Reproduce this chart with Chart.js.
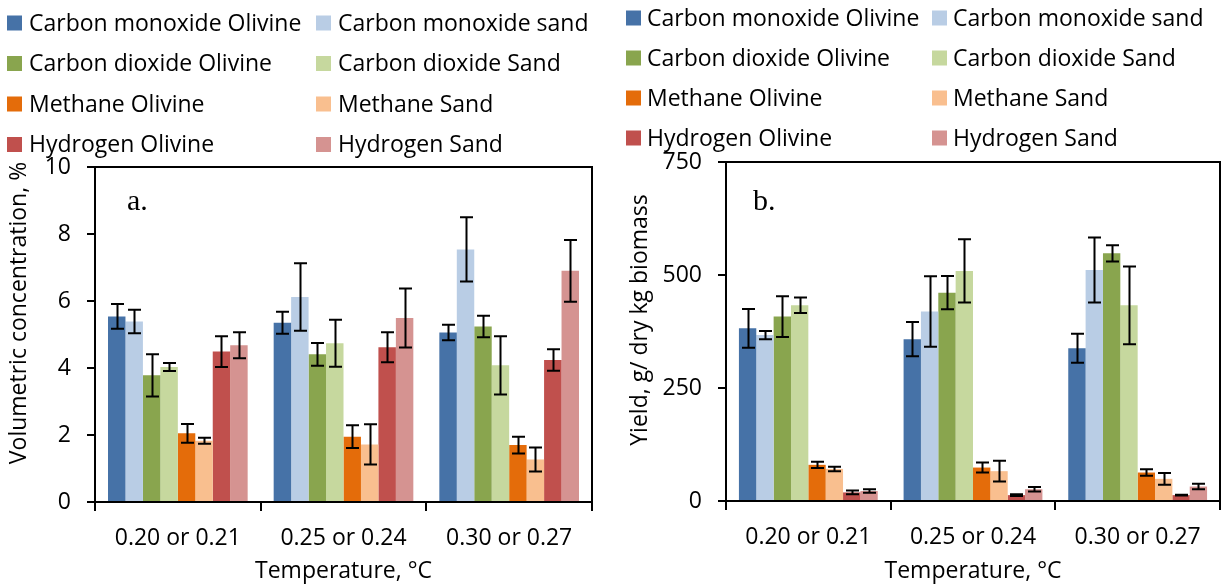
<!DOCTYPE html>
<html>
<head>
<meta charset="utf-8">
<script src="https://cdn.jsdelivr.net/npm/chart.js@4.4.0/dist/chart.umd.min.js"></script>
<style>
  html, body { margin: 0; padding: 0; background: #ffffff; }
  #wrap { position: relative; width: 1225px; height: 585px; overflow: hidden; }
  .panel { position: absolute; top: 0; height: 585px; }
  #panelA { left: 0; width: 612px; }
  #panelB { left: 612px; width: 613px; }
</style>
</head>
<body>
<div id="wrap">
  <div class="panel" id="panelA"><canvas id="chartA"></canvas></div>
  <div class="panel" id="panelB"><canvas id="chartB"></canvas></div>
</div>
<script>
// ---- categories and series ----
const temperatures = ['0.20 or 0.21', '0.25 or 0.24', '0.30 or 0.27'];
const seriesNames = [
  'Carbon monoxide Olivine', 'Carbon monoxide sand',
  'Carbon dioxide Olivine', 'Carbon dioxide Sand',
  'Methane Olivine', 'Methane Sand',
  'Hydrogen Olivine', 'Hydrogen Sand'
];
const seriesColors = [
  '#4672a7', '#b9cde5',
  '#89a54e', '#c6d89e',
  '#e46c0a', '#f9bf8f',
  '#c0504d', '#d59391'
];

// ---- (a) volumetric concentration, % ----
const concCOOlivine = [5.54, 5.35, 5.06];
const concCOSand = [5.39, 6.12, 7.54];
const concCO2Olivine = [3.78, 4.41, 5.24];
const concCO2Sand = [4.03, 4.74, 4.08];
const concCH4Olivine = [2.05, 1.95, 1.70];
const concCH4Sand = [1.83, 1.72, 1.27];
const concH2Olivine = [4.49, 4.62, 4.24];
const concH2Sand = [4.68, 5.49, 6.90];

const concCOOlivineErr = [0.37, 0.33, 0.23];
const concCOSandErr = [0.35, 1.01, 0.96];
const concCO2OlivineErr = [0.63, 0.34, 0.32];
const concCO2SandErr = [0.12, 0.70, 0.87];
const concCH4OlivineErr = [0.28, 0.34, 0.25];
const concCH4SandErr = [0.09, 0.60, 0.36];
const concH2OlivineErr = [0.46, 0.45, 0.32];
const concH2SandErr = [0.39, 0.88, 0.92];

const concTicks = [0, 2, 4, 6, 8, 10];

// ---- (b) yield, g / dry kg biomass ----
const yieldCOOlivine = [382, 358, 338];
const yieldCOSand = [367, 419, 511];
const yieldCO2Olivine = [408, 461, 548];
const yieldCO2Sand = [433, 509, 433];
const yieldCH4Olivine = [80, 74, 63];
const yieldCH4Sand = [71, 66, 49];
const yieldH2Olivine = [19, 13, 13];
const yieldH2Sand = [22, 26, 32];

const yieldCOOlivineErr = [43, 38, 32];
const yieldCOSandErr = [9, 78, 72];
const yieldCO2OlivineErr = [45, 37, 18];
const yieldCO2SandErr = [17, 70, 86];
const yieldCH4OlivineErr = [7, 11, 7];
const yieldCH4SandErr = [5, 23, 13];
const yieldH2OlivineErr = [4, 2, 1];
const yieldH2SandErr = [4, 5, 6];

const yieldTicks = [0, 250, 500, 750];

const FONT = '"Open Sans", "Noto Sans", sans-serif';
const FONT_SIZE = 23;

// ---- plugins ----
// Vertical error bars with caps, drawn over each bar from its value ± error.
const errorBars = {
  id: 'errorBars',
  afterDatasetsDraw(chart, args, opts) {
    const { ctx } = chart;
    const y = chart.scales.y;
    ctx.save();
    ctx.strokeStyle = opts.color || '#000';
    ctx.lineWidth = opts.lineWidth || 2;
    ctx.lineCap = 'butt';
    chart.data.datasets.forEach((ds, i) => {
      const meta = chart.getDatasetMeta(i);
      meta.data.forEach((bar, j) => {
        const v = ds.data[j], e = ds.errors[j];
        const x = Math.round(bar.x) + 0.5;
        const yHi = y.getPixelForValue(v + e);
        const yLo = y.getPixelForValue(v - e);
        const half = (opts.capWidth || 12) / 2;
        ctx.beginPath();
        ctx.moveTo(x, yHi); ctx.lineTo(x, yLo);
        ctx.moveTo(x - half, yHi); ctx.lineTo(x + half, yHi);
        ctx.moveTo(x - half, yLo); ctx.lineTo(x + half, yLo);
        ctx.stroke();
      });
    });
    ctx.restore();
  }
};

// Top and right edges of the plot box.
const plotFrame = {
  id: 'plotFrame',
  afterDraw(chart, args, opts) {
    const { ctx, chartArea: a } = chart;
    ctx.save();
    ctx.strokeStyle = '#000';
    ctx.lineWidth = opts.lineWidth || 2;
    ctx.beginPath();
    ctx.moveTo(a.left, a.top);
    ctx.lineTo(a.right, a.top);
    ctx.lineTo(a.right, a.bottom);
    ctx.stroke();
    ctx.restore();
  }
};

// Two-column legend built from the datasets, plus panel letter and rotated y title.
const panelText = {
  id: 'panelText',
  afterDraw(chart, args, opts) {
    const { ctx } = chart;
    ctx.save();
    ctx.textBaseline = 'middle';
    ctx.textAlign = 'left';
    ctx.font = `${FONT_SIZE}px ${FONT}`;
    chart.data.datasets.forEach((ds, i) => {
      const col = i % 2, row = Math.floor(i / 2);
      const x = opts.legendCols[col];
      const yc = opts.legendTop + row * opts.legendRowGap;
      ctx.fillStyle = ds.backgroundColor;
      ctx.fillRect(x, yc - opts.box / 2, opts.box, opts.box);
      ctx.fillStyle = '#000';
      ctx.fillText(ds.label, x + opts.box + opts.boxGap, yc + 1);
    });
    // panel letter
    ctx.font = `30px "Liberation Serif", "DejaVu Serif", serif`;
    ctx.textBaseline = 'alphabetic';
    ctx.fillText(opts.letter, opts.letterX, opts.letterY);
    // y axis title
    ctx.font = `${FONT_SIZE}px ${FONT}`;
    ctx.textAlign = 'center';
    ctx.textBaseline = 'middle';
    ctx.translate(opts.titleX, opts.titleY);
    ctx.rotate(-Math.PI / 2);
    ctx.fillText(opts.yTitle, 0, 0);
    ctx.restore();
  }
};

function makeDatasets(values, errors) {
  return values.map((vals, i) => ({
    label: seriesNames[i],
    data: vals,
    errors: errors[i],
    backgroundColor: seriesColors[i],
    borderWidth: 0,
    categoryPercentage: 0.843,
    barPercentage: 1.0
  }));
}

function makeChart(canvasId, cfg) {
  return new Chart(document.getElementById(canvasId), {
    type: 'bar',
    data: { labels: temperatures, datasets: cfg.datasets },
    plugins: [errorBars, plotFrame, panelText],
    options: {
      responsive: true,
      maintainAspectRatio: false,
      animation: false,
      events: [],
      layout: { padding: { top: cfg.plotTop, right: cfg.padRight, left: 0, bottom: 0 } },
      plugins: {
        legend: { display: false },
        tooltip: { enabled: false },
        errorBars: { lineWidth: 2, capWidth: 13 },
        plotFrame: { lineWidth: 2 },
        panelText: cfg.text
      },
      scales: {
        x: {
          offset: true,
          grid: { display: true, offset: true, drawOnChartArea: false, drawTicks: true, tickLength: 9, color: '#000', lineWidth: 2 },
          border: { display: true, color: '#000', width: 2 },
          ticks: { color: '#000', padding: 14, font: { family: FONT, size: FONT_SIZE } },
          title: { display: true, text: 'Temperature, °C', color: '#000', padding: { top: 0, bottom: 0 }, font: { family: FONT, size: FONT_SIZE } },
          afterFit(scale) { scale.height = cfg.xHeight; }
        },
        y: {
          min: 0,
          max: cfg.ticks[cfg.ticks.length - 1],
          afterBuildTicks(scale) { scale.ticks = cfg.ticks.map(v => ({ value: v })); },
          grid: { display: true, drawOnChartArea: false, drawTicks: true, tickLength: 8, color: '#000', lineWidth: 2 },
          border: { display: true, color: '#000', width: 2 },
          ticks: { color: '#000', padding: 16, font: { family: FONT, size: FONT_SIZE } },
          afterFit(scale) { scale.width = cfg.yWidth; }
        }
      }
    }
  });
}

makeChart('chartA', {
  datasets: makeDatasets(
    [concCOOlivine, concCOSand, concCO2Olivine, concCO2Sand, concCH4Olivine, concCH4Sand, concH2Olivine, concH2Sand],
    [concCOOlivineErr, concCOSandErr, concCO2OlivineErr, concCO2SandErr, concCH4OlivineErr, concCH4SandErr, concH2OlivineErr, concH2SandErr]
  ),
  ticks: concTicks,
  plotTop: 167, padRight: 20, xHeight: 83, yWidth: 95,
  text: {
    legendCols: [7, 316], legendTop: 23, legendRowGap: 40.5, box: 15, boxGap: 7,
    letter: 'a.', letterX: 127, letterY: 210,
    yTitle: 'Volumetric concentration, %', titleX: 19, titleY: 313
  }
});

makeChart('chartB', {
  datasets: makeDatasets(
    [yieldCOOlivine, yieldCOSand, yieldCO2Olivine, yieldCO2Sand, yieldCH4Olivine, yieldCH4Sand, yieldH2Olivine, yieldH2Sand],
    [yieldCOOlivineErr, yieldCOSandErr, yieldCO2OlivineErr, yieldCO2SandErr, yieldCH4OlivineErr, yieldCH4SandErr, yieldH2OlivineErr, yieldH2SandErr]
  ),
  ticks: yieldTicks,
  plotTop: 162, padRight: 5, xHeight: 84, yWidth: 114,
  text: {
    legendCols: [14, 320], legendTop: 18, legendRowGap: 40, box: 15, boxGap: 6,
    letter: 'b.', letterX: 141, letterY: 210,
    yTitle: 'Yield, g/ dry kg biomass', titleX: 28, titleY: 320
  }
});
</script>
</body>
</html>
